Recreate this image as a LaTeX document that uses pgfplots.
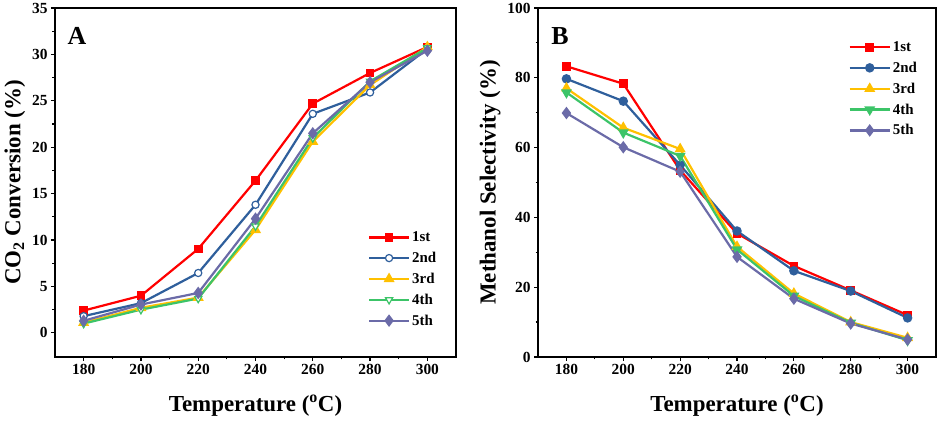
\documentclass[border=0pt]{standalone}
\usepackage{pgfplots}
\pgfplotsset{compat=1.18}
\usepackage{fontspec}
\setmainfont{Liberation Serif}
\definecolor{cred}{HTML}{FF0000}
\definecolor{cblue}{HTML}{2F5F9C}
\definecolor{cyel}{HTML}{FFC000}
\definecolor{cgreen}{HTML}{3CC468}
\definecolor{cpurp}{HTML}{6B6BA8}
\pgfplotsset{
  myaxis/.style={
    scale only axis,
    width=400bp, height=349bp,
    xmin=170, xmax=310,
    xtick={180,200,...,300},
    minor x tick num=1,
    minor y tick num=1,
    axis line style={line width=1.6bp},
    tick style={line width=1.2bp, black},
    tick align=outside,
    major tick length=4bp,
    minor tick length=2.5bp,
    xtick pos=bottom, ytick pos=left,
    /pgf/number format/assume math mode=true,
    ticklabel style={font=\fontsize{15.5}{15.5}\selectfont\bfseries},
    label style={font=\fontsize{23}{23}\selectfont\bfseries},
    xlabel={Temperature (\textsuperscript{o}C)},
    xlabel style={yshift=-13bp},
    every axis plot/.append style={line width=2.2bp},
    legend style={draw=none, fill=none, font=\fontsize{15}{15}\selectfont\bfseries,
      row sep=5bp, inner sep=0pt, cells={anchor=west}},
    legend image code/.code={\draw[mark repeat=2,mark phase=2,##1] plot coordinates {(0bp,0bp) (20bp,0bp) (40bp,0bp)};},
  },
}
\begin{document}
\begin{tikzpicture}
\useasboundingbox (0,0) rectangle (942bp,423bp);
\begin{axis}[myaxis, at={(55bp,66bp)}, anchor=south west,
  width=401bp,
  ymin=-2.6, ymax=35, ytick={0,5,...,35},
  ylabel={CO\textsubscript{2} Conversion (\%)},
  ylabel style={yshift=0bp},
  legend style={at={(0.78,0.365)}, anchor=north west},
  ]
\addplot[cred, mark=square*, mark size=3.2bp] coordinates {(180,2.4) (200,4.0) (220,9.05) (240,16.4) (260,24.7) (280,28.0) (300,30.8)};
\addplot[cblue, mark=*, mark size=3.6bp, mark options={fill=white, line width=1.2bp}] coordinates {(180,1.8) (200,3.2) (220,6.45) (240,13.8) (260,23.6) (280,25.9) (300,30.6)};
\addplot[cyel, mark=triangle*, mark size=4.2bp] coordinates {(180,1.1) (200,2.7) (220,3.8) (240,11.1) (260,20.6) (280,26.7) (300,30.8)};
\addplot[cgreen, mark=triangle*, mark size=4.2bp, mark options={rotate=180, fill=white, line width=1.2bp}] coordinates {(180,1.0) (200,2.5) (220,3.7) (240,11.5) (260,21.0) (280,27.1) (300,30.7)};
\addplot[cpurp, mark=diamond*, mark size=4.5bp] coordinates {(180,1.3) (200,3.05) (220,4.3) (240,12.3) (260,21.5) (280,27.0) (300,30.4)};
\legend{1st,2nd,3rd,4th,5th}
\node[anchor=center, font=\fontsize{26}{26}\selectfont\bfseries] at (rel axis cs:0.055,0.92) {A};
\end{axis}
\begin{axis}[myaxis, at={(538bp,66bp)}, anchor=south west,
  width=398bp,
  ymin=0, ymax=100, ytick={0,20,...,100},
  ylabel={Methanol Selectivity (\%)},
  ylabel style={yshift=0bp},
  legend style={at={(0.78,0.91)}, anchor=north west},
  ]
\addplot[cred, mark=square*, mark size=3.2bp] coordinates {(180,83.3) (200,78.3) (220,53.5) (240,35.4) (260,26.1) (280,19.1) (300,12.0)};
\addplot[cblue, mark=*, mark size=3.6bp] coordinates {(180,79.7) (200,73.3) (220,55.0) (240,36.1) (260,24.7) (280,18.9) (300,11.2)};
\addplot[cyel, mark=triangle*, mark size=4.2bp] coordinates {(180,77.0) (200,65.7) (220,59.6) (240,31.6) (260,18.2) (280,10.0) (300,5.5)};
\addplot[cgreen, mark=triangle*, mark size=4.2bp, mark options={rotate=180}] coordinates {(180,75.8) (200,64.3) (220,57.6) (240,30.8) (260,17.5) (280,9.8) (300,4.8)};
\addplot[cpurp, mark=diamond*, mark size=4.5bp] coordinates {(180,69.9) (200,60.1) (220,53.1) (240,28.7) (260,16.7) (280,9.6) (300,5.0)};
\legend{1st,2nd,3rd,4th,5th}
\node[anchor=center, font=\fontsize{26}{26}\selectfont\bfseries] at (rel axis cs:0.055,0.92) {B};
\end{axis}
\end{tikzpicture}
\end{document}
